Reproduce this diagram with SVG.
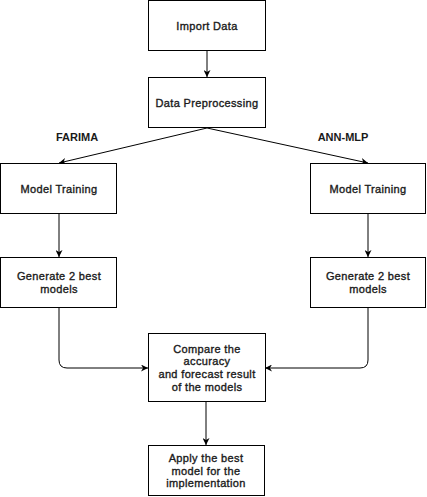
<svg xmlns="http://www.w3.org/2000/svg" width="427" height="497" viewBox="0 0 427 497">
<style>
.box{fill:#fff;stroke:#000;stroke-width:1}
.t{font-family:"Liberation Sans",Arial,sans-serif;font-size:11px;letter-spacing:0.35px;fill:#1a1a1a;stroke:#1a1a1a;stroke-width:0.35;text-anchor:middle}
.lbl{font-family:"Liberation Sans",Arial,sans-serif;font-size:11px;font-weight:bold;fill:#1a1a1a;text-anchor:middle}
.c{fill:none;stroke:#000;stroke-width:1}
</style>
<defs>
<marker id="ah" viewBox="0 0 10 10" refX="10" refY="5" markerWidth="7" markerHeight="7" orient="auto" markerUnits="userSpaceOnUse">
<path d="M0,0 L10,5 L0,10 L3,5 Z" fill="#000"/>
</marker>
</defs>
<rect width="427" height="497" fill="#fff"/>
<g id="connectors">
<path class="c" d="M207,50 V77" marker-end="url(#ah)"/>
<path class="c" d="M207,128 L59,163" marker-end="url(#ah)"/>
<path class="c" d="M207,128 L368,163" marker-end="url(#ah)"/>
<path class="c" d="M59,214 V257" marker-end="url(#ah)"/>
<path class="c" d="M368,214 V257" marker-end="url(#ah)"/>
<path class="c" d="M59,308 V360 Q59,368 67,368 H148" marker-end="url(#ah)"/>
<path class="c" d="M368,308 V360 Q368,368 360,368 H265" marker-end="url(#ah)"/>
<path class="c" d="M206,402 V445" marker-end="url(#ah)"/>
<text class="lbl" x="77" y="141">FARIMA</text>
<text class="lbl" x="343" y="141">ANN-MLP</text>
</g>
<g id="import">
<rect class="box" x="148.5" y="0.5" width="117" height="50"/>
<text class="t" x="207" y="29.5">Import Data</text>
</g>
<g id="preprocess">
<rect class="box" x="148.5" y="77.5" width="117" height="50"/>
<text class="t" x="207" y="106.5">Data Preprocessing</text>
</g>
<g id="train-left">
<rect class="box" x="0.5" y="163.5" width="116" height="50"/>
<text class="t" x="59" y="192.5">Model Training</text>
</g>
<g id="train-right">
<rect class="box" x="310.5" y="163.5" width="115" height="50"/>
<text class="t" x="368" y="192.5">Model Training</text>
</g>
<g id="gen-left">
<rect class="box" x="0.5" y="257.5" width="116" height="50"/>
<text class="t" x="59" y="280">Generate 2 best</text>
<text class="t" x="59" y="292.7">models</text>
</g>
<g id="gen-right">
<rect class="box" x="310.5" y="257.5" width="115" height="50"/>
<text class="t" x="368" y="280">Generate 2 best</text>
<text class="t" x="368" y="292.7">models</text>
</g>
<g id="compare">
<rect class="box" x="148.5" y="333.5" width="117" height="68"/>
<text class="t" x="207" y="352.5">Compare the</text>
<text class="t" x="207" y="365.2">accuracy</text>
<text class="t" x="207" y="377.9">and forecast result</text>
<text class="t" x="207" y="390.6">of the models</text>
</g>
<g id="apply">
<rect class="box" x="148.5" y="445.5" width="116" height="50"/>
<text class="t" x="206" y="461.8">Apply the best</text>
<text class="t" x="206" y="474.5">model for the</text>
<text class="t" x="206" y="487.2">implementation</text>
</g>
</svg>
